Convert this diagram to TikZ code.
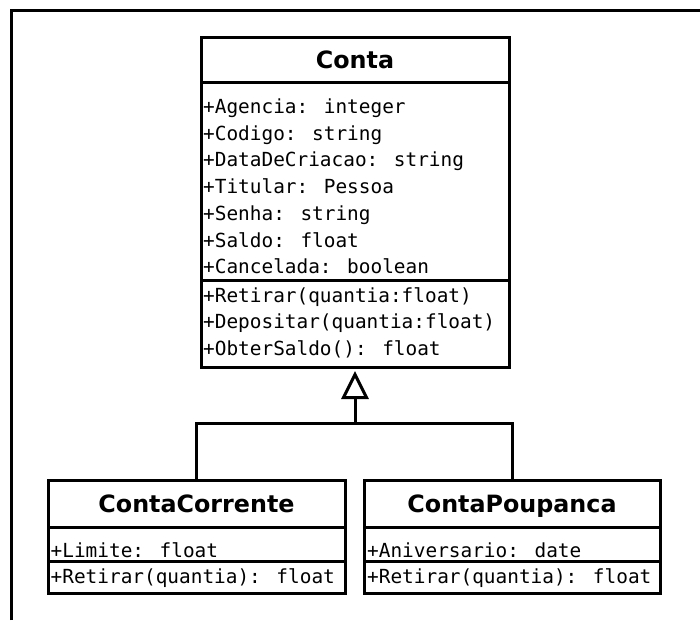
\documentclass[tikz,border=0pt]{standalone}
\usepackage{fontspec}
\newfontfamily\umlsans{DejaVu Sans}
\newfontfamily\umlmono{DejaVu Sans Mono}
\usetikzlibrary{arrows.meta}
\tikzset{
	titlestyle/.style={rectangle, draw=black, fill=white, line width=3pt, outer sep=0pt, inner sep=0pt,
		text height=17pt, text depth=0pt, font=\umlsans\bfseries\fontsize{23.8}{28}\selectfont},
	compstyle/.style={rectangle, draw=black, fill=white, line width=3pt, outer sep=0pt, inner sep=0pt},
	memberstyle/.style={anchor=base west, inner sep=0pt, align=left, font=\umlmono\fontsize{19.4}{26.7}\selectfont},
	framestyle/.style={line width=3pt},
	linkstyle/.style={line width=3pt}
}

\begin{document}
\begin{tikzpicture}[x=1pt, y=-1pt]
	\useasboundingbox (0,0) rectangle (700,620);
	\draw[framestyle] (11,620) -- (11,11) -- (700,11);
	% Conta
	\node[titlestyle, minimum width=308pt, minimum height=45pt] (conta) at (355,60.5) {Conta};
	\node[compstyle, minimum width=308pt, minimum height=197pt] (contaattr) at (355,181.5) {};
	\node[compstyle, minimum width=308pt, minimum height=87pt] (contameth) at (355,323.5) {};
	\node[memberstyle] (contaattrtext) at (203,273.7) {+Agencia: integer\\+Codigo: string\\+DataDeCriacao: string\\+Titular: Pessoa\\+Senha: string\\+Saldo: float\\+Cancelada: boolean};
	\node[memberstyle] (contamethtext) at (203,355.4) {+Retirar(quantia:float)\\+Depositar(quantia:float)\\+ObterSaldo(): float};
	% ContaCorrente
	\node[titlestyle, minimum width=297pt, minimum height=47pt] (cc) at (196.5,503.5) {ContaCorrente};
	\node[compstyle, minimum width=297pt, minimum height=34pt] (ccattr) at (196.5,544) {};
	\node[compstyle, minimum width=297pt, minimum height=32pt] (ccmeth) at (196.5,577) {};
	\node[memberstyle] (ccattrtext) at (50.5,557) {+Limite: float};
	\node[memberstyle] (ccmethtext) at (50.5,583) {+Retirar(quantia): float};
	% ContaPoupanca
	\node[titlestyle, minimum width=296pt, minimum height=47pt] (cp) at (512,503.5) {ContaPoupanca};
	\node[compstyle, minimum width=296pt, minimum height=34pt] (cpattr) at (512,544) {};
	\node[compstyle, minimum width=296pt, minimum height=32pt] (cpmeth) at (512,577) {};
	\node[memberstyle] (cpattrtext) at (367,557) {+Aniversario: date};
	\node[memberstyle] (cpmethtext) at (367,583) {+Retirar(quantia): float};
	% heranca
	\coordinate (join) at (355,423);
	\draw[linkstyle] (cc.north) |- (join) -| (cp.north);
	\draw[linkstyle, -{Triangle[open, length=28pt, width=27pt]}] (join) -- ([yshift=-4pt]contameth.south);
\end{tikzpicture}
\end{document}
